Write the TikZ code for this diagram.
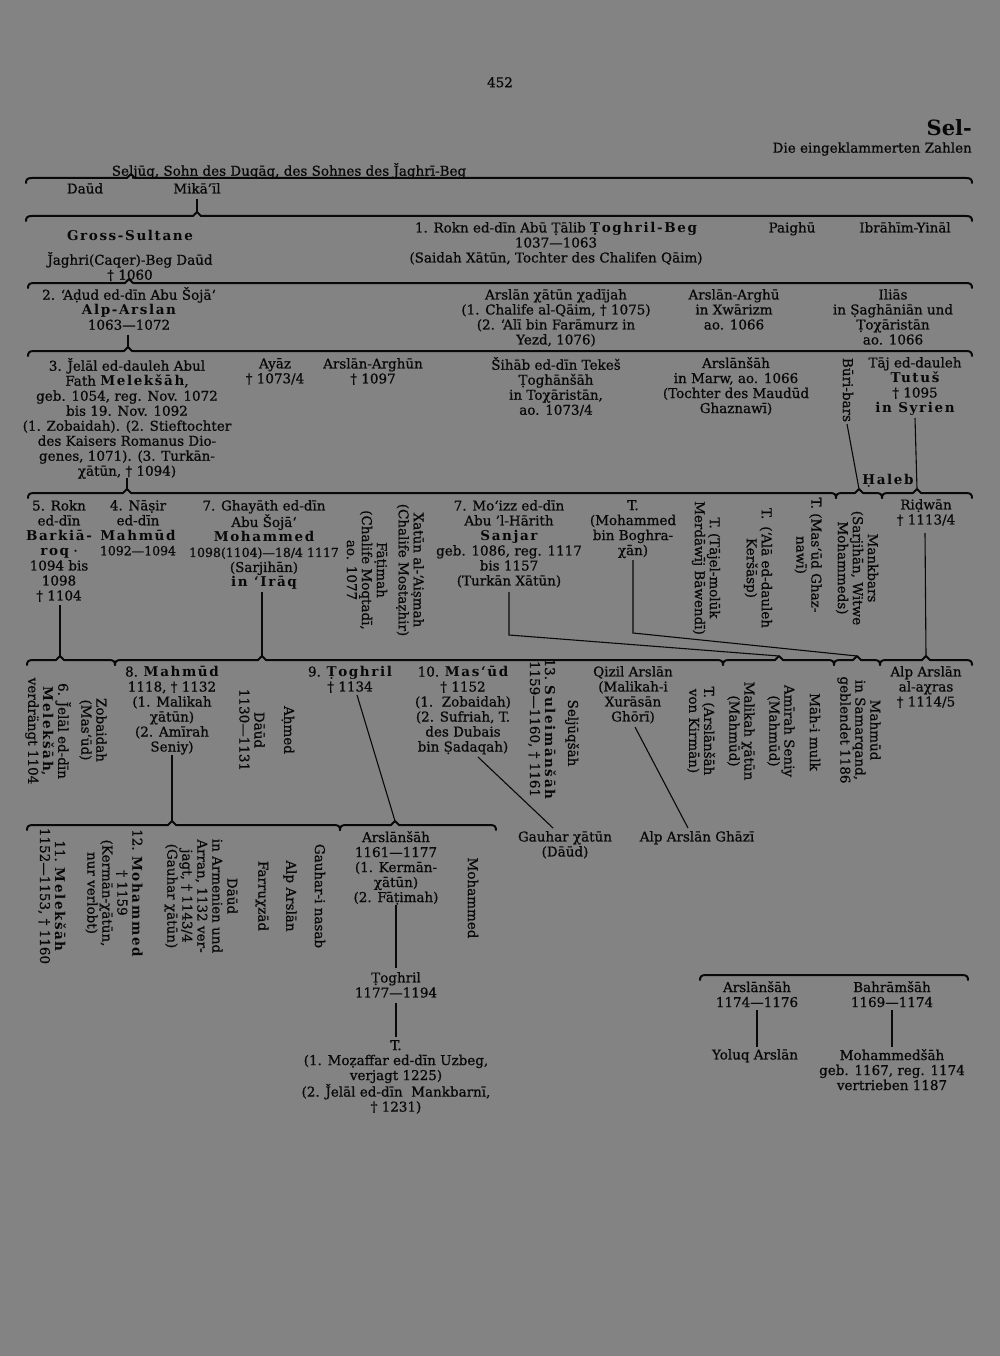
\documentclass[tikz,border=0pt]{standalone}
\usepackage{fontspec}
\setmainfont{DejaVu Serif}[UprightFeatures={FakeBold=0.8}]
\definecolor{bg}{RGB}{131,131,131}
\definecolor{ink}{RGB}{8,8,8}
\newcommand\gsp[1]{{\bfseries\addfontfeature{LetterSpace=12}#1}}
\newcommand\tsize{\fontsize{13.5}{15}\selectfont}
\newcommand\hbr[4]{%
  \draw[brc] (#1,#4+5) .. controls (#1,#4+1.5) and (#1+1.5,#4) .. (#1+6,#4) -- (#2-4,#4) -- (#2,#4-4) -- (#2+4,#4) -- (#3-6,#4) .. controls (#3-1.5,#4) and (#3,#4+1.5) .. (#3,#4+5);}
\newcommand\hbrn[3]{%
  \draw[brc] (#1,#3+5) .. controls (#1,#3+1.5) and (#1+1.5,#3) .. (#1+6,#3) -- (#2-6,#3) .. controls (#2-1.5,#3) and (#2,#3+1.5) .. (#2,#3+5);}
\tikzset{
  tx/.style={font=\tsize, align=center, inner sep=0pt, anchor=north, text=ink},
  rt/.style={font=\tsize, align=center, inner sep=0pt, anchor=center, rotate=-90, text=ink},
  ln/.style={draw=ink, line width=1.1pt},
  brc/.style={draw=ink, line width=2pt, line cap=round, line join=round},
}
\begin{document}
\begin{tikzpicture}[x=1pt,y=-1pt]
\path[use as bounding box, fill=bg] (0,0) rectangle (1000,1356);

% header
\node[tx] (p452) at (500,77) {452};
\node[tx,anchor=east,font=\fontsize{21}{23}\selectfont\bfseries] (sel) at (972,128) {Sel-};
\node[tx,anchor=east] (die) at (972,149) {Die eingeklammerten Zahlen};
\node[tx] (seljuq) at (289,163) {Seljūq, Sohn des Duqāq, des Sohnes des \v{J}aghrī-Beg};

% braces
\hbr{26}{131}{972}{178}
\hbr{26}{197}{972}{216}
\hbr{28}{129}{972}{283}
\hbr{28}{128}{972}{351}
\hbr{28}{127}{836}{493}
\hbr{836}{859}{882}{493}
\hbr{882}{917}{972}{493}
\hbr{27}{60}{115}{660}
\hbr{115}{262}{723}{660}
\hbr{723}{779}{834}{660}
\hbr{834}{857}{880}{660}
\hbr{880}{926}{972}{660}
\hbr{27}{172}{340}{825}
\hbr{340}{395}{496}{825}
\hbrn{700}{968}{975}

% notch tips
\coordinate (n2) at (197,212);
\coordinate (n4) at (128,347);
\coordinate (n5a) at (127,489);
\coordinate (n5b) at (859,489);
\coordinate (n5c) at (917,489);
\coordinate (n6a) at (60,656);
\coordinate (n6b) at (262,656);
\coordinate (n6c) at (779,656);
\coordinate (n6d) at (857,656);
\coordinate (n6e) at (926,656);
\coordinate (n7a) at (172,821);
\coordinate (n7b) at (395,821);

% row 1
\node[tx] (daud0) at (85,183) {Daūd};
\node[tx] (mikail) at (197,183) {Mikā’īl};

% row 2
\node[tx] (gross) at (130,230) {\gsp{Gross-Sultane}};
\node[tx] (jaghri) at (130,252) {\v{J}aghri(Caqer)-Beg Daūd\\† 1060};
\node[tx] (rokn1) at (556,222) {1. Rokn ed-dīn Abū Ṭālib \gsp{Ṭoghril-Beg}\\1037—1063\\(Saidah Xātūn, Tochter des Chalifen Qāim)};
\node[tx] (paighu) at (792,222) {Paighū};
\node[tx] (ibrahim) at (905,222) {Ibrāhīm-Yināl};

% row 3
\node[tx] (alparslan) at (129,287) {2. ‘Aḍud ed-dīn Abu Šojā‘\\\gsp{Alp-Arslan}\\1063—1072};
\node[tx] (arslankh) at (556,289) {Arslān χātūn χadījah\\(1. Chalife al-Qāim, † 1075)\\(2. ‘Alī bin Farāmurz in\\Yezd, 1076)};
\node[tx] (arghu) at (734,289) {Arslān-Arghū\\in Xwārizm\\ao. 1066};
\node[tx] (ilias) at (893,289) {Iliās\\in Ṣaghāniān und\\Ṭoχāristān\\ao. 1066};

% row 4
\node[tx] (meleksah) at (127,358) {3. \v{J}elāl ed-dauleh Abul\\Fath \gsp{Melekšāh},\\geb. 1054, reg. Nov. 1072\\bis 19. Nov. 1092\\(1. Zobaidah). (2. Stieftochter\\des Kaisers Romanus Dio-\\genes, 1071). (3. Turkān-\\χātūn, † 1094)};
\node[tx] (ayaz) at (275,358) {Ayāz\\† 1073/4};
\node[tx] (arghun) at (373,358) {Arslān-Arghūn\\† 1097};
\node[tx] (tekes) at (556,357) {Šihāb ed-dīn Tekeš\\Ṭoghānšāh\\in Toχāristān,\\ao. 1073/4};
\node[tx] (arslansah1) at (736,357) {Arslānšāh\\in Marw, ao. 1066\\(Tochter des Maudūd\\Ghaznawī)};
\node[rt] (buribars) at (848,390) {Būri-bars};
\node[tx] (tutus) at (915,357) {Tāj ed-dauleh\\\gsp{Tutuš}\\† 1095\\\gsp{in Syrien}};
\node[tx] (haleb) at (888,474) {\gsp{Ḥaleb}};

% row 5
\node[tx] (barkiaroq) at (59,500) {5. Rokn\\ed-dīn\\\gsp{Barkiā-}\\\gsp{roq} ·\\1094 bis\\1098\\† 1104};
\node[tx] (nasir) at (138,500) {4. Nāṣir\\ed-dīn\\\gsp{Mahmūd}\\{\fontsize{12.5}{15}\selectfont 1092—1094}};
\node[tx] (mohammed7) at (264,500) {7. Ghayāth ed-dīn\\Abu Šojā‘\\\gsp{Mohammed}\\{\fontsize{12.5}{15}\selectfont 1098(1104)—18/4 1117}\\(Sarjihān)\\\gsp{in ‘Irāq}};
\node[rt] (fatimah) at (367,570) {Fāṭimah\\(Chalife Moqtadī,\\ao. 1077};
\node[rt] (aismah) at (410,570) {Xatūn al-‘Aiṣmah\\(Chalife Mostaẓhir)};
\node[tx] (sanjar) at (509,500) {7. Mo‘izz ed-dīn\\Abu ’l-Hārith\\\gsp{Sanjar}\\geb. 1086, reg. 1117\\bis 1157\\(Turkān Xātūn)};
\node[tx] (tboghra) at (633,500) {T.\\(Mohammed\\bin Boghra-\\χān)};
\node[rt] (tajel) at (706,568) {T. (Tājel-molūk\\Merdāwīj Bāwendī)};
\node[rt] (kersasp) at (758,568) {T.\hspace{7pt}(‘Alā ed-dauleh\\Keršāsp)};
\node[rt] (ghaznawi) at (808,555) {T. (Mas‘ūd Ghaz-\\nawī)};
\node[rt] (mankbars) at (857,568) {Mankbars\\(Sarjihān, Witwe\\Mohammeds)};
\node[tx] (ridwan) at (926,499) {Riḍwān\\† 1113/4};

% row 6
\node[rt] (meleksah6) at (48,731) {6. \v{J}elāl ed-dīn\\\gsp{Melekšāh},\\verdrängt 1104};
\node[rt] (zobaidah) at (93,730) {Zobaidah\\(Mas‘ūd)};
\node[tx] (mahmud8) at (172,666) {8. \gsp{Mahmūd}\\1118, † 1132\\(1. Malikah\\χātūn)\\(2. Amīrah\\Seniy)};
\node[rt] (daud8) at (252,730) {Dāūd\\1130—1131};
\node[rt] (ahmed) at (288,730) {Aḥmed};
\node[tx] (toghril9) at (350,666) {9. \gsp{Ṭoghril}\\† 1134};
\node[tx] (masud10) at (463,666) {10. \gsp{Mas‘ūd}\\† 1152\\(1.\ \ Zobaidah)\\(2. Sufriah, T.\\des Dubais\\bin Ṣadaqah)};
\node[rt] (suleiman) at (542,729) {13. \gsp{Suleimānšāh}\\1159—1160, † 1161};
\node[rt] (seljuqsah) at (572,733) {Seljūqšāh};
\node[tx] (qizil) at (633,666) {Qizil Arslān\\(Malikah-i\\Xurāsān\\Ghōrī)};
\node[rt] (tarslansah) at (701,731) {T. (Arslānšāh\\von Kirmān)};
\node[rt] (malikah) at (741,731) {Malikah χātūn\\(Mahmūd)};
\node[rt] (amirah) at (781,731) {Amīrah Seniy\\(Mahmūd)};
\node[rt] (mahimulk) at (815,732) {Māh-i mulk};
\node[rt] (mahmudsam) at (859,730) {Mahmūd\\in Samarqand,\\geblendet 1186};
\node[tx] (alparslanax) at (926,666) {Alp Arslān\\al-aχras\\† 1114/5};

% row 7
\node[rt] (meleksah11) at (52,896) {11. \gsp{Melekšāh}\\1152—1153, † 1160};
\node[rt] (mohammed12) at (114,893) {12. \gsp{Mohammed}\\† 1159\\(Kermān-χātūn,\\nur verlobt)};
\node[rt] (daud7) at (201,896) {Dāūd\\in Armenien und\\Arran, 1132 ver-\\jagt, † 1143/4\\(Gauhar χātūn)};
\node[rt] (farruxzad) at (262,896) {Farruχzād};
\node[rt] (alparslan7) at (290,896) {Alp Arslān};
\node[rt] (gauharinasab) at (320,896) {Gauhar-i nasab};
\node[tx] (arslansah7) at (396,831) {Arslānšāh\\1161—1177\\(1. Kermān-\\χātūn)\\(2. Fāṭimah)};
\node[rt] (mohammed7r) at (473,898) {Mohammed};
\node[tx] (gauhar) at (565,831) {Gauhar χātūn\\(Dāūd)};
\node[tx] (alpghazi) at (697,831) {Alp Arslān Ghāzī};

% lower
\node[tx] (toghril8) at (396,972) {Ṭoghril\\1177—1194};
\node[tx] (tdaughter) at (396,1040) {T.\\(1. Moẓaffar ed-dīn Uzbeg,\\verjagt 1225)\\(2. \v{J}elāl ed-dīn\ \ Mankbarnī,\\† 1231)};
\node[tx] (arslansah8) at (757,981) {Arslānšāh\\1174—1176};
\node[tx] (yoluq) at (755,1049) {Yoluq Arslān};
\node[tx] (bahram) at (892,981) {Bahrāmšāh\\1169—1174};
\node[tx] (mohammedsah) at (892,1049) {Mohammedšāh\\geb. 1167, reg. 1174\\vertrieben 1187};

% connector start points
\coordinate (c-mik) at (197,199);
\coordinate (c-alp) at (128,335);
\coordinate (c-mel) at (127,478);
\coordinate (c-bur) at (847,424);
\coordinate (c-tut) at (915,418);
\coordinate (c-bar) at (60,605);
\coordinate (c-moh) at (262,592);
\coordinate (c-san) at (509,592);
\coordinate (c-san2) at (509,635);
\coordinate (c-tbo) at (633,560);
\coordinate (c-tbo2) at (633,633);
\coordinate (c-rid) at (925,533);
\coordinate (c-mah) at (172,755);
\coordinate (c-tog) at (357,695);
\coordinate (c-mas) at (478,757);
\coordinate (c-qiz) at (635,727);
\coordinate (c-ars7) at (396,905);
\coordinate (c-tog8) at (396,1003);
\coordinate (c-ars8) at (757,1010);
\coordinate (c-bah) at (892,1010);

% connectors
\draw[ln] (c-mik) -- (n2);
\draw[ln] (c-alp) -- (n4);
\draw[ln] (c-mel) -- (n5a);
\draw[ln] (c-bur) -- (n5b);
\draw[ln] (c-tut) -- (n5c);
\draw[ln] (c-bar) -- (n6a);
\draw[ln] (c-moh) -- (n6b);
\draw[ln] (c-san) -- (c-san2) -- (n6c);
\draw[ln] (c-tbo) -- (c-tbo2) -- (n6d);
\draw[ln] (c-rid) -- (n6e);
\draw[ln] (c-mah) -- (n7a);
\draw[ln] (c-tog) -- (n7b);
\draw[ln] (c-mas) -- ([xshift=-12pt,yshift=3pt]gauhar.north);
\draw[ln] (c-qiz) -- ([xshift=-9pt,yshift=3pt]alpghazi.north);
\draw[ln] (c-ars7) -- ([yshift=4pt]toghril8.north);
\draw[ln] (c-tog8) -- ([yshift=3pt]tdaughter.north);
\draw[ln] (c-ars8) -- ([yshift=2pt]c-ars8 |- yoluq.north);
\draw[ln] (c-bah) -- ([yshift=2pt]c-bah |- mohammedsah.north);
\end{tikzpicture}
\end{document}
